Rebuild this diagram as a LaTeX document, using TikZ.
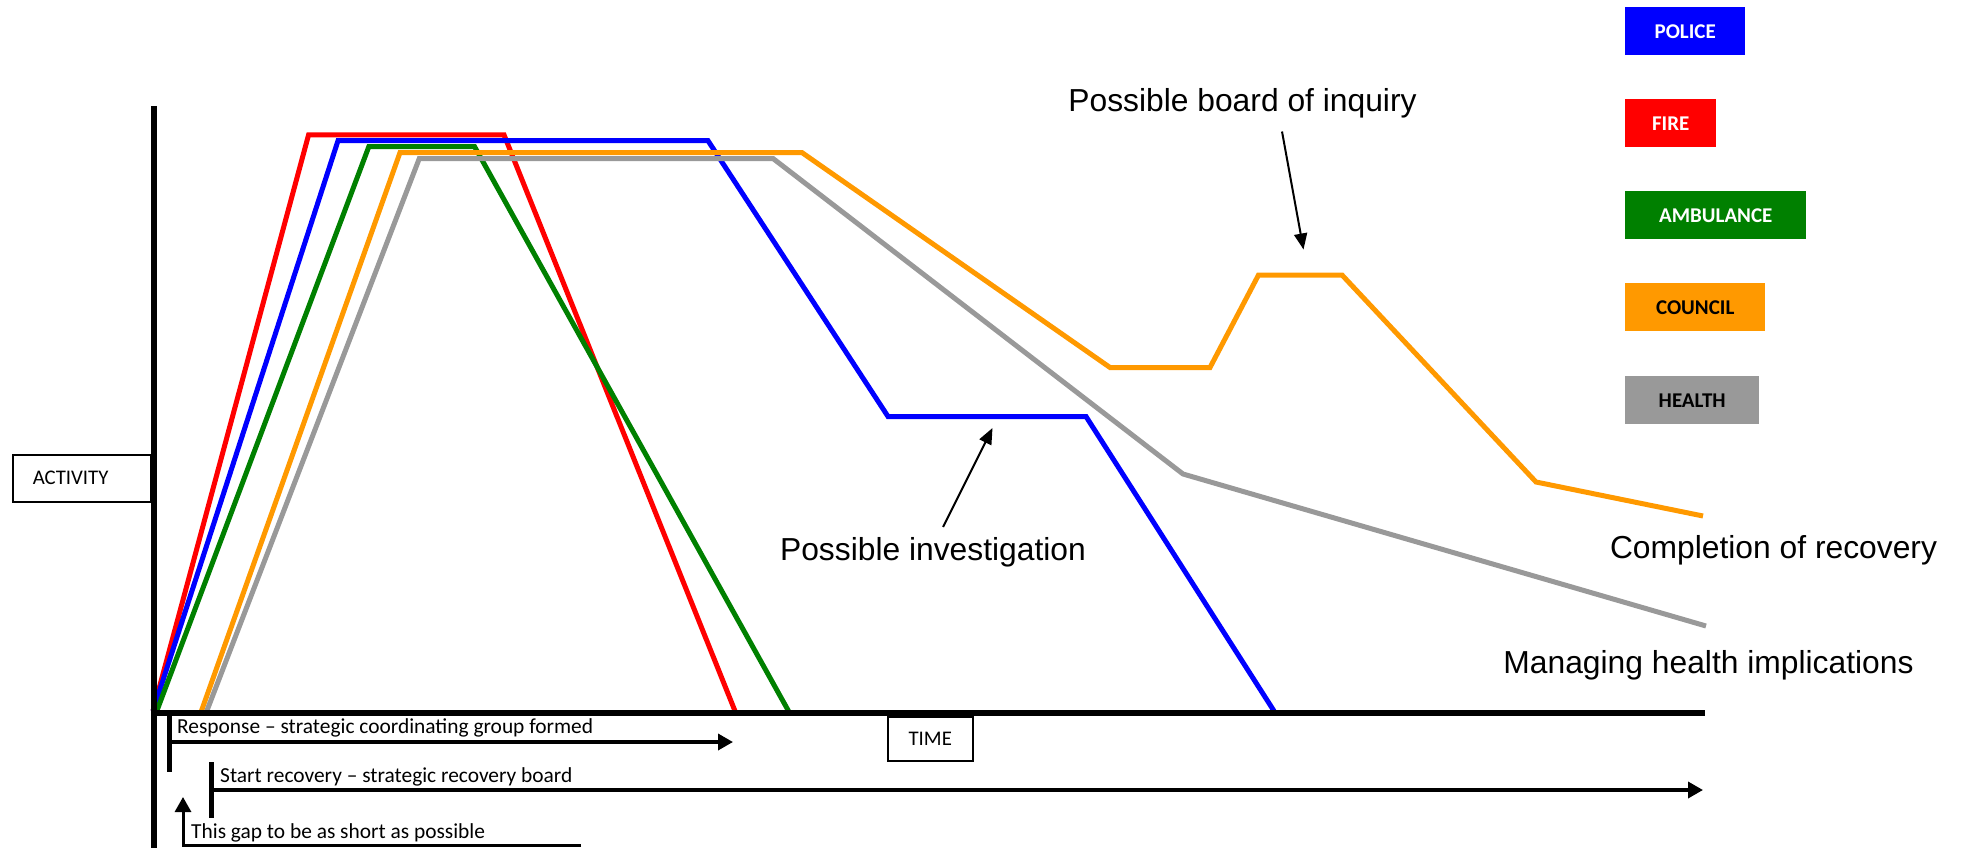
\documentclass[tikz,border=0pt]{standalone}
\usepackage{fontspec}
\setmainfont{Liberation Sans}
\newfontfamily\calfont{Carlito}
\usetikzlibrary{arrows.meta}
\definecolor{cpolice}{HTML}{0000FF}
\definecolor{cfire}{HTML}{FF0000}
\definecolor{camb}{HTML}{008000}
\definecolor{ccouncil}{HTML}{FF9900}
\definecolor{chealth}{HTML}{999999}
\begin{document}
\begin{tikzpicture}[x=1pt,y=-1pt,
  series/.style={line width=5pt, line join=miter},
  axisline/.style={line width=6pt},
  tickline/.style={line width=5.5pt},
  timearrow/.style={line width=3.5pt, -{Triangle[length=15pt,width=16pt]}},
  annoarrow/.style={line width=2pt, -{Triangle[length=16pt,width=13pt]}},
  legendbox/.style={anchor=north west, minimum height=48pt, inner sep=0pt,
    font=\calfont\bfseries\fontsize{21}{25}\selectfont},
  annotext/.style={font=\fontsize{31.8}{38}\selectfont, inner sep=0pt},
  smalltext/.style={font=\calfont\fontsize{21.4}{25}\selectfont, inner sep=0pt, anchor=base west},
  axisbox/.style={draw, line width=1.5pt, font=\calfont\fontsize{20.8}{24}\selectfont}
]
\useasboundingbox (0,0) rectangle (1964,848);

% legend
\node[legendbox, fill=cpolice, text=white, minimum width=120pt] (police) at (1625,7) {POLICE};
\node[legendbox, fill=cfire, text=white, minimum width=91pt] (fire) at (1625,99) {FIRE};
\node[legendbox, fill=camb, text=white, minimum width=181pt] (amb) at (1625,191) {AMBULANCE};
\node[legendbox, fill=ccouncil, text=black, minimum width=140pt] (council) at (1625,283) {COUNCIL};
\node[legendbox, fill=chealth, text=black, minimum width=134pt] (health) at (1625,376) {HEALTH};

% series
\draw[series, cfire] (153,711) -- (308.6,134.8) -- (504,134.8) -- (735,711);
\draw[series, cpolice] (153,711) -- (338,140.7) -- (708,140.7) -- (888,416.5) -- (1086,416.5) -- (1274,711);
\draw[series, camb] (156.8,711) -- (368.8,146.7) -- (474.6,146.7) -- (788.5,711);
\draw[series, ccouncil] (201.4,711) -- (400,152.6) -- (802,152.6) -- (1110,367.5) -- (1210,367.5) -- (1258.5,275) -- (1342,275) -- (1536,482) -- (1703,516);
\draw[series, chealth] (206.8,711) -- (419.3,158.5) -- (773,158.5) -- (1183,474) -- (1706,626);

% axes
\coordinate (ytop) at (154,106);
\coordinate (ybot) at (154,848);
\coordinate (xleft) at (151,712.5);
\coordinate (xright) at (1705,712.5);
\draw[axisline] (ytop) -- (ybot);
\draw[axisline] (xleft) -- (xright);

% axis labels
\node[axisbox, anchor=north west, text width=98pt, inner xsep=20pt, minimum height=47pt, align=left] (activity) at (12,454) {ACTIVITY};
\node[axisbox, anchor=north west, minimum width=85pt, minimum height=44pt, inner sep=0pt] (time) at (887,716) {TIME};

% time bars
\coordinate (rtop) at (169.5,716);
\coordinate (rbot) at (169.5,772);
\coordinate (rstart) at (169.5,742);
\coordinate (rend) at (733,742);
\draw[tickline] (rtop) -- (rbot);
\draw[timearrow] (rstart) -- (rend);
\node[smalltext] (response) at (177,733) {Response – strategic coordinating group formed};

\coordinate (stop) at (211.3,762);
\coordinate (sbot) at (211.3,818);
\coordinate (sstart) at (211.3,790);
\coordinate (send) at (1703,790);
\draw[tickline] (stop) -- (sbot);
\draw[timearrow] (sstart) -- (send);
\node[smalltext] (startrec) at (220,782) {Start recovery – strategic recovery board};

\coordinate (gapright) at (581,845);
\coordinate (gapcorner) at (183,845);
\coordinate (gaptip) at (183,797);
\draw[timearrow, line width=3pt] (gapright) -- (gapcorner) -- (gaptip);
\node[smalltext] (gap) at (191,838.5) {This gap to be as short as possible};

% annotations
\node[annotext] (boi) at (1242.5,103) {Possible board of inquiry};
\node[annotext] (inv) at (933,552) {Possible investigation};
\node[annotext] (comp) at (1773.5,550) {Completion of recovery};
\node[annotext] (mhi) at (1708.5,665) {Managing health implications};

\coordinate (boistart) at (1282,131.5);
\coordinate (boitip) at (1303.5,249.5);
\coordinate (invstart) at (943,527);
\coordinate (invtip) at (992.5,428);
\draw[annoarrow] (boistart) -- (boitip);
\draw[annoarrow] (invstart) -- (invtip);
\end{tikzpicture}
\end{document}
